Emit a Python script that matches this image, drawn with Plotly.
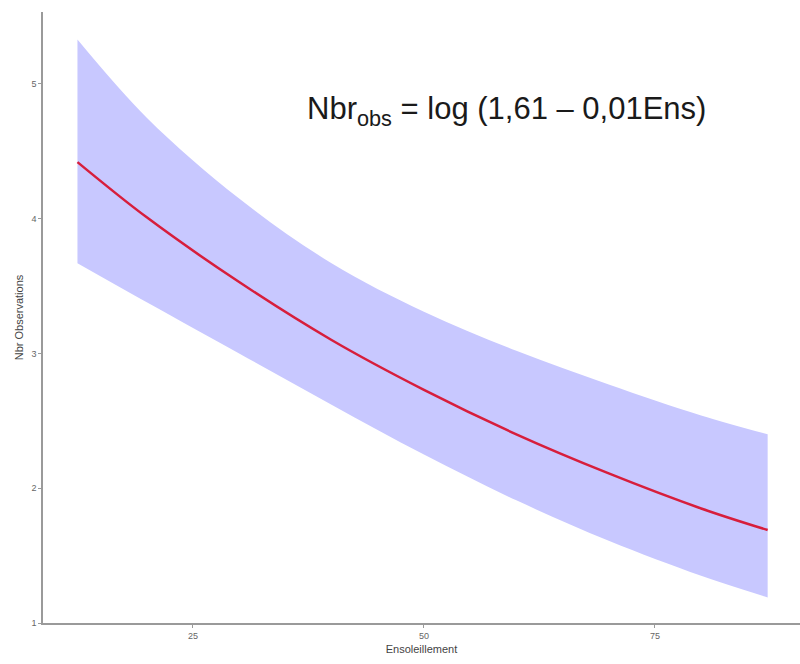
import plotly.graph_objects as go

# Values
ens = [12.5, 20, 30, 40, 50, 60, 70, 80, 87.2]
fit = [4.42, 4.01, 3.53, 3.10, 2.73, 2.40, 2.11, 1.85, 1.69]
upper = [5.33, 4.75, 4.15, 3.67, 3.31, 3.02, 2.77, 2.54, 2.40]
lower = [3.67, 3.38, 3.00, 2.62, 2.25, 1.91, 1.61, 1.35, 1.19]

x_ticks = [25, 50, 75]
y_ticks = [1, 2, 3, 4, 5]

fig = go.Figure()
fig.add_trace(go.Scatter(x=ens, y=upper, mode="lines", line=dict(width=0, shape="spline"),
                         showlegend=False, hoverinfo="skip"))
fig.add_trace(go.Scatter(x=ens, y=lower, mode="lines", line=dict(width=0, shape="spline"),
                         fill="tonexty", fillcolor="rgb(200,200,255)",
                         showlegend=False, hoverinfo="skip"))
fig.add_trace(go.Scatter(x=ens, y=fit, mode="lines", line=dict(color="rgb(215,30,60)", width=2.5, shape="spline"),
                         showlegend=False))

axis_common = dict(showline=True, linecolor="#9a9a9a", linewidth=1.5, ticks="outside",
                   ticklen=3, tickcolor="#9a9a9a", showgrid=False, zeroline=False,
                   tickfont=dict(family="Liberation Sans", size=9, color="#666666"))

fig.update_layout(
    width=800, height=664,
    margin=dict(l=43, r=0, t=12, b=41),
    paper_bgcolor="white", plot_bgcolor="white",
    xaxis=dict(range=[8.77, 90.7], tickvals=x_ticks,
               title=dict(text="Ensoleillement", font=dict(family="Liberation Sans", size=11, color="#444444"), standoff=6),
               **axis_common),
    yaxis=dict(range=[1.0, 5.534], tickvals=y_ticks,
               title=dict(text="Nbr Observations", font=dict(family="Liberation Sans", size=11, color="#444444"), standoff=6),
               **axis_common),
    annotations=[dict(text="Nbr<sub>obs</sub> = log (1,61 – 0,01Ens)", xref="paper", yref="paper",
                      x=0.346, y=0.838, xanchor="left", yanchor="middle", showarrow=False,
                      font=dict(family="Liberation Sans", size=31, color="#1a1a1a"))],
)

fig.write_html("out.html")
